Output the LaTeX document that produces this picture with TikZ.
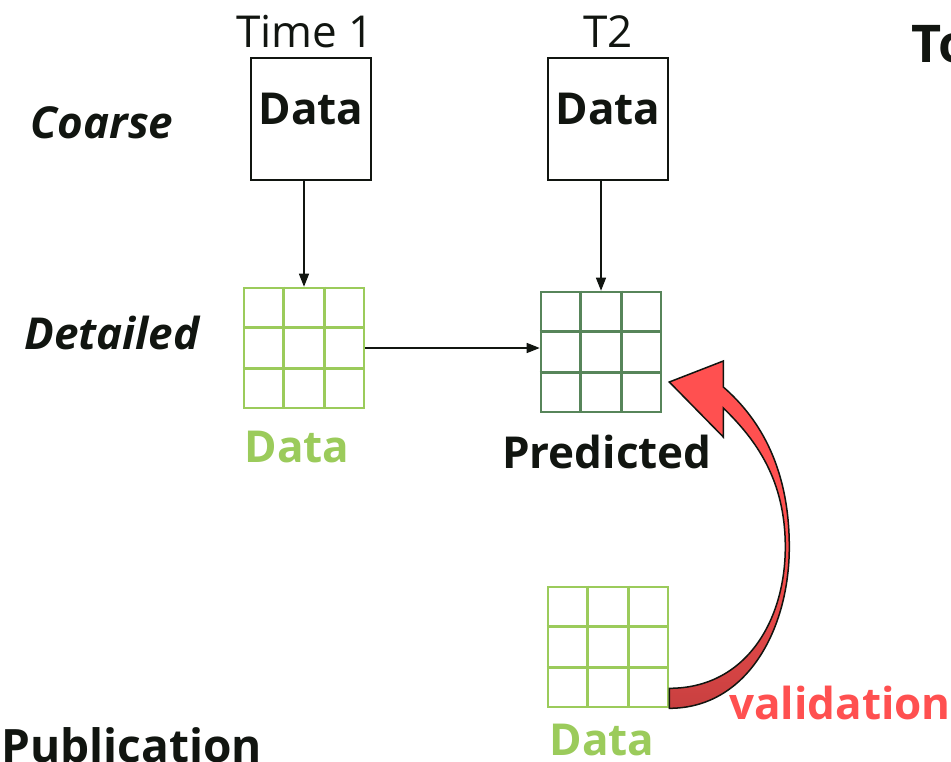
\documentclass[tikz,border=0pt]{standalone}
\usepackage{fontspec}
\setmainfont{Open Sans}
\usepackage{xcolor}
\usepackage{tikz}
\usetikzlibrary{arrows.meta,positioning,calc}

\definecolor{ink}{HTML}{111510}
\definecolor{lightgrn}{HTML}{9BCB5B}
\definecolor{darkgrn}{HTML}{57855A}
\definecolor{valred}{HTML}{FF5050}
\definecolor{arrowdark}{HTML}{C84040}

\begin{document}
\begin{tikzpicture}[x=1pt, y=-1pt,
  coarsebox/.style={draw=ink, line width=2pt, minimum width=120pt, inner sep=0pt,
    text height=66pt, text depth=56pt, text=ink, font=\fontsize{44}{52}\selectfont\bfseries},
  cellgrid/.style={draw=#1, line width=2.6pt, minimum size=120pt, inner sep=0pt},
  rowlabel/.style={text=ink, font=\fontsize{44}{52}\selectfont\bfseries\itshape},
  timelabel/.style={text=ink, font=\fontsize{44}{52}\selectfont},
  gridlabel/.style={font=\fontsize{44}{52}\selectfont\bfseries},
  flow/.style={draw=ink, line width=1.5pt, -{Triangle[length=13pt,width=10pt]}}
]
\useasboundingbox (0,0) rectangle (951,761);
\clip (0,0) rectangle (951,761);

% time columns
\node[timelabel] (time1) at (305,32) {Time 1};
\node[timelabel] (time2) at (608,32) {T2};
\node[coarsebox] (box1) at (311,119) {Data};
\node[coarsebox] (box2) at (608,119) {Data};

% row labels
\node[rowlabel] (coarse) at (102,123) {Coarse};
\node[rowlabel] (detailed) at (112,333) {Detailed};
\node[text=ink, font=\fontsize{52}{60}\selectfont\bfseries, anchor=base west] (topnote) at (908,62) {To};
\node[text=ink, font=\fontsize{46}{54}\selectfont\bfseries, anchor=base west] (publication) at (-2,762) {Publication};

% grids
\node[cellgrid=lightgrn] (grid1) at (304,348) {};
\node[cellgrid=darkgrn] (grid2) at (601,352) {};
\node[cellgrid=lightgrn] (grid3) at (608,647) {};
\foreach \g/\c in {grid1/lightgrn, grid2/darkgrn, grid3/lightgrn}
  \foreach \i in {1,2} {
    \draw[\c, line width=2.6pt] ($(\g.north west)!\i/3!(\g.north east)$) -- ($(\g.south west)!\i/3!(\g.south east)$);
    \draw[\c, line width=2.6pt] ($(\g.north west)!\i/3!(\g.south west)$) -- ($(\g.north east)!\i/3!(\g.south east)$);
  }

\node[gridlabel, text=lightgrn] (data1) at (297,447) {Data};
\node[gridlabel, text=ink] (predicted) at (607,452) {Predicted};
\node[gridlabel, text=lightgrn] (data3) at (602,740) {Data};
\node[gridlabel, text=valred] (validation) at (840,703) {validation};

% connectors
\draw[flow] (grid1.north |- box1.south) -- (grid1.north);
\draw[flow] (grid2.north |- box2.south) -- (grid2.north);
\draw[flow] (grid1.east) -- (grid1.east -| grid2.west);

% validation arrow
\coordinate (vbot) at (grid3.south east);
\coordinate (tip) at ($(grid2.east)+(7,30)$);
\draw[draw=ink, line width=1.5pt, top color=valred, bottom color=arrowdark, middle color=valred]
  (vbot) .. controls +(78,0) and +(0,82) .. ($(tip)+(120,165)$)
  .. controls +(0,-77) and +(38,33) .. ($(tip)+(54,5)$)
  -- ($(tip)+(54,-21)$) -- (tip) -- ($(tip)+(54,55)$) -- ($(tip)+(54,26)$)
  .. controls +(33,32) and +(0,-67) .. ($(tip)+(116,165)$)
  .. controls +(0,73) and +(77,0) .. ($(vbot)+(0,-20)$) -- cycle;
\end{tikzpicture}
\end{document}
